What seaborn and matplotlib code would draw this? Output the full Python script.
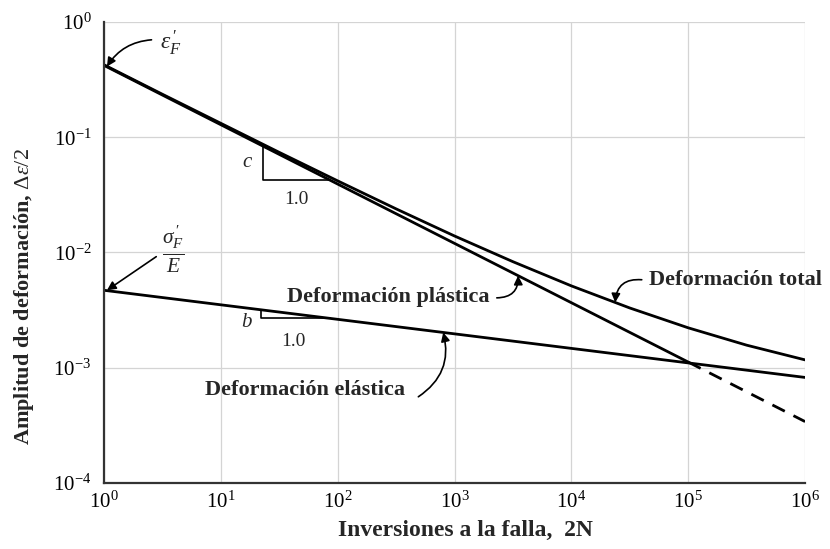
import numpy as np
import pandas as pd
import matplotlib
matplotlib.use("Agg")
import matplotlib.pyplot as plt
import seaborn as sns

# Strain-life (Coffin-Manson / Basquin) curves, amplitude vs. reversals to failure
reversals = [1, 3.16, 10, 31.6, 100, 316, 1000, 3160, 1e4, 3.16e4, 1e5, 3.16e5, 1e6]
total_strain = [0.425, 0.236, 0.132, 0.0739, 0.0418, 0.0239, 0.0139, 0.00832,
                0.00513, 0.00330, 0.00222, 0.00157, 0.00117]

plastic_reversals = [1, 1e5]
plastic_strain = [0.42, 0.00112]
plastic_ext_reversals = [1e5, 1e6]
plastic_ext_strain = [0.00112, 0.000341]

elastic_reversals = [1, 1e6]
elastic_strain = [0.0047, 0.000824]

x_ticks = [1, 10, 100, 1e3, 1e4, 1e5, 1e6]
y_ticks = [1e-4, 1e-3, 1e-2, 1e-1, 1]

sns.set_theme(style="whitegrid")
plt.rcParams.update({
    "font.family": ["Liberation Serif", "DejaVu Serif"],
    "mathtext.fontset": "custom",
    "mathtext.rm": "Liberation Serif",
    "mathtext.it": "Liberation Serif:italic",
    "mathtext.bf": "Liberation Serif:bold",
})

fig = plt.figure(figsize=(8.3, 5.49), dpi=100)
ax = fig.add_axes([0.1253, 0.1202, 0.8447, 0.8398])
ax.set_xscale("log")
ax.set_yscale("log")

line_kw = dict(color="black", linewidth=2.0, legend=False)
sns.lineplot(data=pd.DataFrame({"n": reversals, "s": total_strain}), x="n", y="s", ax=ax, **line_kw)
sns.lineplot(data=pd.DataFrame({"n": plastic_reversals, "s": plastic_strain}), x="n", y="s", ax=ax, **line_kw)
sns.lineplot(data=pd.DataFrame({"n": plastic_ext_reversals, "s": plastic_ext_strain}), x="n", y="s",
             ax=ax, linestyle=(0, (5, 3.5)), **line_kw)
sns.lineplot(data=pd.DataFrame({"n": elastic_reversals, "s": elastic_strain}), x="n", y="s", ax=ax, **line_kw)


def on_line(xs, ys, x):
    return 10 ** np.interp(np.log10(x), np.log10(xs), np.log10(ys))


# slope triangles
for xs, ys, x1, x2 in [(plastic_reversals, plastic_strain, 23, 86),
                       (elastic_reversals, elastic_strain, 22, 86)]:
    y1, y2 = on_line(xs, ys, x1), on_line(xs, ys, x2)
    ax.plot([x1, x1, x2], [y1, y2, y2], color="black", linewidth=1.2)

ax.text(16.8, 0.0598, "$c$", fontsize=15, ha="center", va="center")
ax.text(44, 0.0286, "1.0", fontsize=14, ha="center", va="center")
ax.text(16.8, 0.00245, "$b$", fontsize=15, ha="center", va="center")
ax.text(41.5, 0.00168, "1.0", fontsize=14, ha="center", va="center")

arrow = dict(arrowstyle="-|>", color="black", lw=1.2, mutation_scale=13, shrinkA=0, shrinkB=0)

# coefficients
ax.annotate("", xy=(1.06, 0.41), xytext=(2.55, 0.70),
            arrowprops=dict(connectionstyle="arc3,rad=0.25", **arrow), annotation_clip=False)
ax.text(3.7, 0.66, r"$\varepsilon_F^{\,\prime}$", fontsize=17, ha="center", va="center")

ax.annotate("", xy=(1.06, 0.0047), xytext=(2.8, 0.0092),
            arrowprops=dict(connectionstyle="arc3,rad=0.0", **arrow), annotation_clip=False)
ax.text(3.9, 0.0106, r"$\frac{\sigma_F^{\,\prime}}{E}$", fontsize=22, ha="center", va="center")

# curve labels
label_kw = dict(fontsize=16, fontweight="bold", va="center")
ax.text(272, 0.00412, "Deformación plástica", ha="center", **label_kw)
ax.annotate("", xy=(3500, on_line(plastic_reversals, plastic_strain, 3500)), xytext=(2300, 0.00404),
            arrowprops=dict(connectionstyle="arc3,rad=0.5", **arrow))

ax.text(46000, 0.0058, "Deformación total", ha="left", clip_on=False, **label_kw)
ax.annotate("", xy=(23700, on_line(reversals, total_strain, 23700)), xytext=(40000, 0.0058),
            arrowprops=dict(connectionstyle="arc3,rad=0.5", **arrow))

ax.text(52, 0.00064, "Deformación elástica", ha="center", **label_kw)
ax.annotate("", xy=(800, on_line(elastic_reversals, elastic_strain, 800)), xytext=(490, 0.00056),
            arrowprops=dict(connectionstyle="arc3,rad=0.35", **arrow))

ax.set_xlim(1, 1e6)
ax.set_ylim(1e-4, 1)
ax.set_xticks(x_ticks)
ax.set_yticks(y_ticks)
ax.minorticks_off()
ax.tick_params(length=0, labelsize=15, colors="black")
ax.tick_params(axis="x", pad=6)
ax.tick_params(axis="y", pad=9)

ax.grid(True, color="#d4d4d4", linewidth=0.9)
ax.set_facecolor("white")
for side in ["top", "right"]:
    ax.spines[side].set_visible(False)
for side in ["left", "bottom"]:
    ax.spines[side].set_color("#333333")
    ax.spines[side].set_linewidth(1.6)

ax.set_xlabel("Inversiones a la falla,  2N", fontsize=17, fontweight="bold")
ax.xaxis.set_label_coords(0.516, -0.08)
ax.set_ylabel(r"Amplitud de deformación, $\Delta\varepsilon/2$", fontsize=16, fontweight="bold")
ax.yaxis.set_label_coords(-0.097, 0.405)

fig.savefig("out.png", dpi=100, facecolor="white")
